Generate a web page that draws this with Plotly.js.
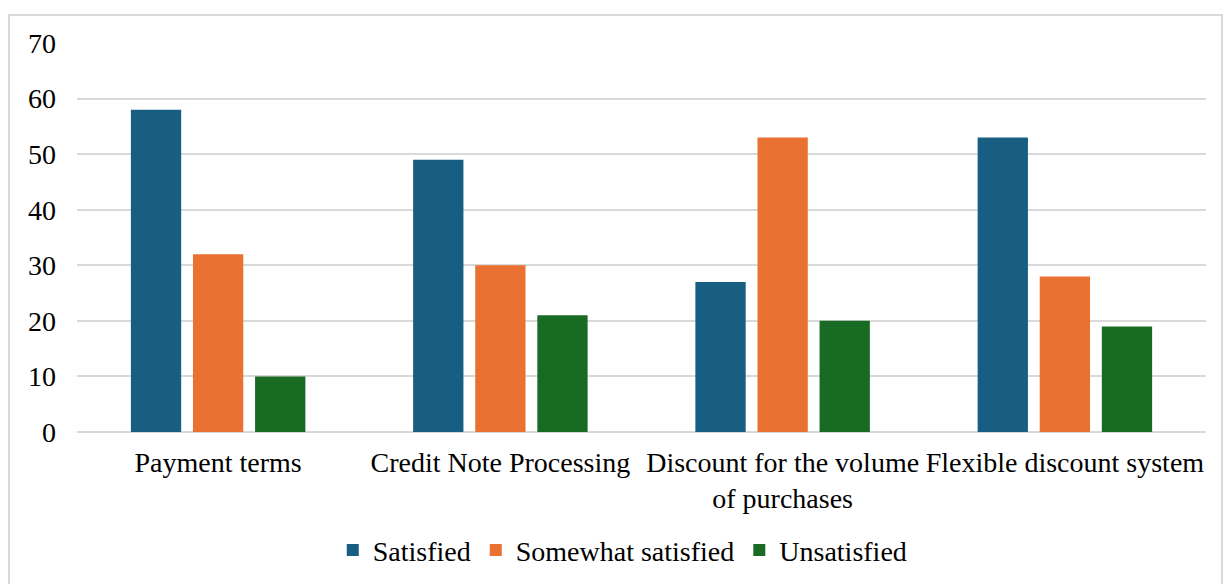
<!DOCTYPE html>
<html>
<head>
<meta charset="utf-8">
<script src="https://cdn.plot.ly/plotly-3.0.1.min.js"></script>
<style>
  html, body { margin: 0; padding: 0; background: #ffffff; }
  #frame {
    position: absolute; left: 8px; top: 14px;
    width: 1211px; height: 580px;
    border: 2px solid #d9d9d9;
    background: #ffffff;
  }
  #chart { width: 1211px; height: 580px; }
</style>
</head>
<body>
<div id="frame"><div id="chart"></div></div>
<script>
// Customer satisfaction with commercial terms
const categories = [
  "Payment terms",
  "Credit Note Processing",
  "Discount for the volume<br>of purchases",
  "Flexible discount system"
];
const satisfied = [58, 49, 27, 53];
const somewhatSatisfied = [32, 30, 53, 28];
const unsatisfied = [10, 21, 20, 19];
const seriesNames = ["Satisfied", "Somewhat satisfied", "Unsatisfied"];
const yTicks = [0, 10, 20, 30, 40, 50, 60, 70];

const colors = ["#175e82", "#e97132", "#196b24"];
const serif = "Liberation Serif";
const fontSize = 28;

const traces = [satisfied, somewhatSatisfied, unsatisfied].map((vals, i) => ({
  type: "bar",
  name: seriesNames[i],
  x: categories,
  y: vals,
  marker: { color: colors[i], line: { width: 0 } },
  hoverinfo: "x+y+name"
}));

const layout = {
  width: 1211,
  height: 580,
  margin: { l: 67, r: 15, t: 27, b: 164 },
  paper_bgcolor: "#ffffff",
  plot_bgcolor: "#ffffff",
  barmode: "group",
  bargap: 0.34,
  bargroupgap: 0.19,
  font: { family: serif, size: fontSize, color: "#000000" },
  xaxis: {
    type: "category",
    showgrid: false,
    showline: false,
    zeroline: false,
    ticks: "",
    ticklabelstandoff: 11,
    tickfont: { family: serif, size: fontSize, color: "#000000" }
  },
  yaxis: {
    range: [0, 70],
    tickvals: yTicks,
    ticktext: yTicks.map(String),
    showgrid: true,
    gridcolor: "#d9d9d9",
    gridwidth: 1.5,
    zeroline: true,
    zerolinecolor: "#d9d9d9",
    zerolinewidth: 1.5,
    showline: false,
    ticks: "",
    ticklabelstandoff: 20,
    tickfont: { family: serif, size: fontSize, color: "#000000" }
  },
  legend: {
    orientation: "h",
    xref: "container",
    yref: "container",
    x: 0.506,
    xanchor: "center",
    y: 0.079,
    yanchor: "middle",
    font: { family: serif, size: fontSize, color: "#000000" },
    itemwidth: 30,
    traceorder: "normal"
  },
  showlegend: true
};

Plotly.newPlot("chart", traces, layout, { displayModeBar: false });
</script>
</body>
</html>
